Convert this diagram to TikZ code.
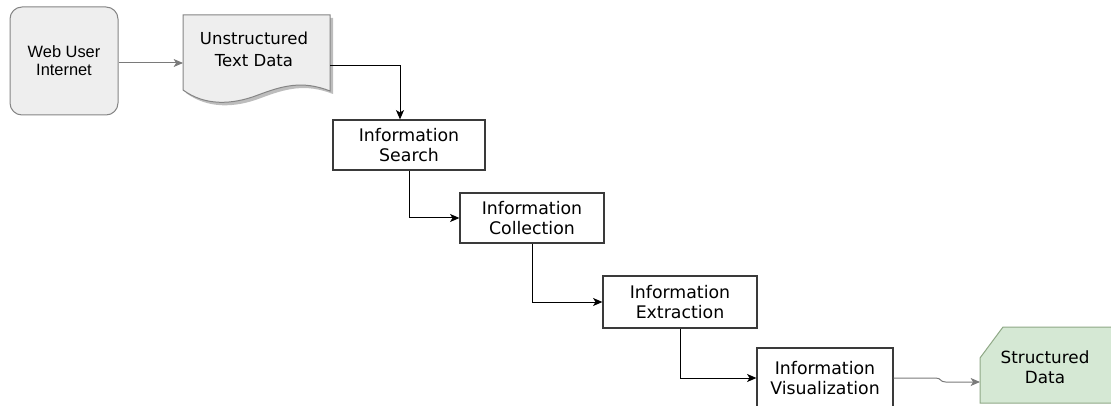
\documentclass[tikz,border=0pt]{standalone}
\usepackage{fontspec}
\setmainfont{DejaVu Sans}
\newfontfamily\arialfont{Liberation Sans}
\usetikzlibrary{positioning, arrows.meta}
\tikzstyle{info_box}=[rectangle,
        draw=BoxLine,
        line width=0.9pt,
        fill=white,
        align=center,
        inner sep=0pt,
        font=\fontsize{13}{15}\selectfont, ]
\tikzstyle{link}=[draw=black, line width=0.75pt, -{Stealth[length=7pt,width=6pt,inset=1.8pt]}]
\tikzstyle{soft_link}=[link, draw=LinkGray]
\definecolor{BoxLine}{HTML}{3A3A3A}
\definecolor{LinkGray}{HTML}{7A7A7A}
\definecolor{PaleGray}{HTML}{EEEEEE}
\definecolor{EdgeGray}{HTML}{858585}
\definecolor{ShadowGray}{HTML}{BDBDBD}
\definecolor{PaleGreen}{HTML}{D5E8D4}
\definecolor{EdgeGreen}{HTML}{8FA886}

\begin{document}
\begin{tikzpicture}[x=0.75pt, y=-0.75pt]
\useasboundingbox (0,0) rectangle (1111,406);

% source
\node at (64,61) (web) [rectangle, rounded corners=9pt, minimum width=81pt, minimum height=81pt,
    draw=EdgeGray, line width=0.75pt, fill=PaleGray, align=center,
    font=\arialfont\fontsize{12.3}{13.5}\selectfont] {Web User\\Internet};

% document with wavy bottom
\fill[ShadowGray, shift={(3,3)}] (183,15) -- (330,15) -- (330,91)
    .. controls (302,80) and (282,86) .. (258,95)
    .. controls (232,105) and (205,106) .. (183,90) -- cycle;
\draw[EdgeGray, fill=PaleGray, line width=0.75pt] (183,15) -- (330,15) -- (330,91)
    .. controls (302,80) and (282,86) .. (258,95)
    .. controls (232,105) and (205,106) .. (183,90) -- cycle;
\node at (254,49) (doc) [align=center, font=\fontsize{12.4}{16.5}\selectfont] {Unstructured\\Text Data};

% processing steps
\node at (409,145) (search) [info_box, minimum width=114pt, minimum height=37.5pt] {Information\\Search};
\node at (532,218) (collection) [info_box, minimum width=108pt, minimum height=37.5pt] {Information\\Collection};
\node at (680,302) (extraction) [info_box, minimum width=115.5pt, minimum height=39pt] {Information\\Extraction};
\node at (825,378) (viz) [info_box, minimum width=102pt, minimum height=45pt] {Information\\Visualization};

% result card
\draw[EdgeGreen, fill=PaleGreen, line width=0.75pt] (980,358) -- (1003,327) -- (1114,327) -- (1114,403) -- (980,403) -- cycle;
\node at (1045,367) (sd) [align=center, font=\fontsize{12.6}{15}\selectfont] {Structured\\Data};

\coordinate (doc-in) at (183,63);
\coordinate (doc-out) at (330,66);
\coordinate (sd-in) at (980,382);

\draw[soft_link] (web.east |- doc-in) -- (doc-in);
\draw[link] (doc-out) -| ([xshift=-6.75pt]search.north);
\draw[link] (search.south) |- (collection.west);
\draw[link] (collection.south) |- (extraction.west);
\draw[link] (extraction.south) |- (viz.west);
\draw[soft_link] (viz.east) -- ++(42,0) .. controls +(6,0) and +(-6,0) .. ++(10,4) -- (sd-in);

\end{tikzpicture}
\end{document}
